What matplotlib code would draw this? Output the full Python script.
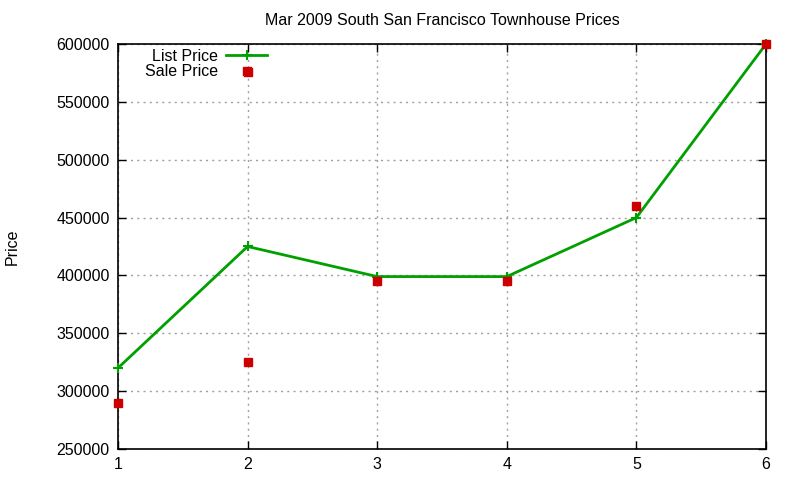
import matplotlib
matplotlib.use("Agg")
import matplotlib.pyplot as plt

x_vals = [1, 2, 3, 4, 5, 6]
list_price = [320000, 425000, 399000, 399000, 450000, 600000]
sale_x = [1, 2, 2, 3, 4, 5, 6]
sale_price = [290000, 576000, 325000, 395000, 395000, 460000, 600000]
title = "Mar 2009 South San Francisco Townhouse Prices"
y_ticks = [250000, 300000, 350000, 400000, 450000, 500000, 550000, 600000]

plt.rcParams['font.family'] = ['Liberation Sans', 'DejaVu Sans']
plt.rcParams['font.size'] = 11.5

fig = plt.figure(figsize=(8, 4.8), dpi=100)
ax = fig.add_axes([118/800, 1-449/480, (766-118)/800, (449-44)/480])

ax.plot(x_vals, list_price, color='#00a000', lw=2, marker='+', ms=7, mew=1.5,
        label='List Price', zorder=3, clip_on=False)
ax.plot(sale_x, sale_price, ls='none', color='#cc0000', marker='s', ms=6.2,
        label='Sale Price', zorder=4, clip_on=False)

ax.set_xlim(1, 6)
ax.set_ylim(250000, 600000)
ax.set_xticks(x_vals)
ax.set_yticks(y_ticks)
ax.tick_params(direction='in', top=True, right=True, length=6, width=1,
               pad=6, labelsize=11.5)
ax.grid(True, color='#a0a0a0', ls=(0, (1.5, 3)), lw=1)
for s in ax.spines.values():
    s.set_linewidth(1.2)

ax.set_title(title, fontsize=11.5, pad=14)
fig.text(12/800, 1-247/480, 'Price', rotation=90, ha='center', va='center', fontsize=11.5)

leg = ax.legend(loc='upper left', bbox_to_anchor=(118/800 + 0.0195, 1-44/480 + 0.0135),
                bbox_transform=fig.transFigure, frameon=False, markerfirst=False,
                handlelength=2.6, handletextpad=0.5, labelspacing=0.05, numpoints=1,
                borderpad=0.2, fontsize=11.5)

fig.savefig('out.png', dpi=100)
